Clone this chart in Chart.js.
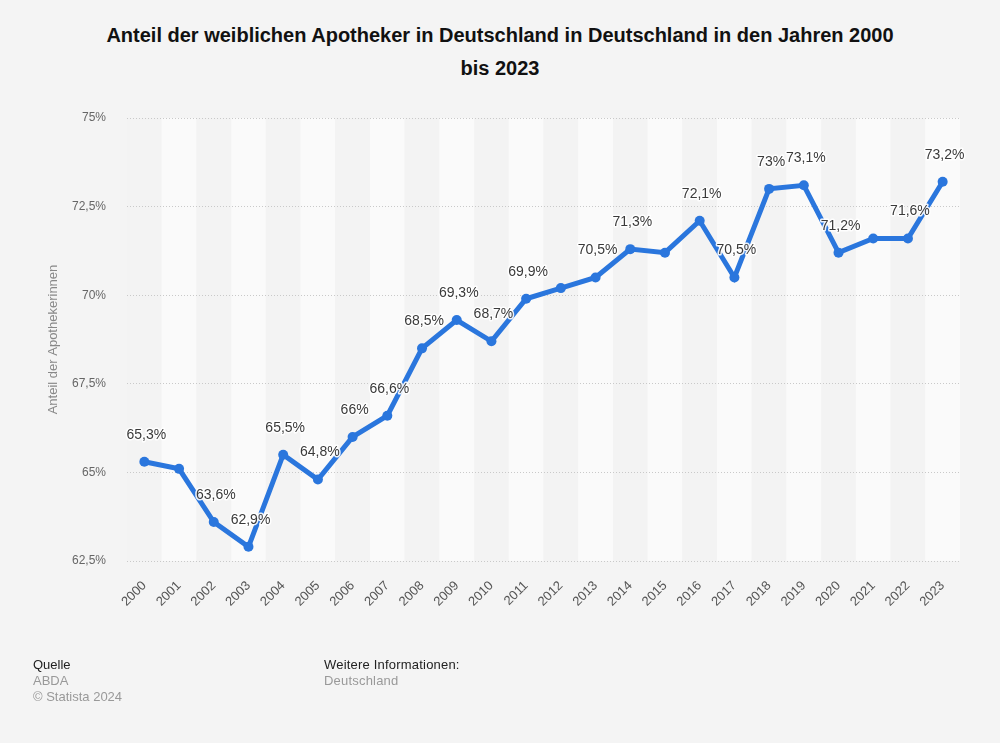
<!DOCTYPE html>
<html>
<head>
<meta charset="utf-8">
<script src="https://cdn.jsdelivr.net/npm/chart.js@4.4.1/dist/chart.umd.min.js"></script>
<style>
  html, body { margin: 0; padding: 0; background: #f4f4f4; }
  body { width: 1000px; height: 743px; position: relative; overflow: hidden; font-family: "Liberation Sans", Arial, Helvetica, sans-serif; }
  #title { position: absolute; left: 40px; top: 19px; width: 920px; text-align: center; font-weight: bold; font-size: 20px; line-height: 33px; color: #111; }
  #wrap { position: absolute; left: 0; top: 0; width: 1000px; height: 743px; }
  .foot { position: absolute; font-size: 13px; line-height: 16px; }
  .dark { color: #222; }
  .grey { color: #999; }
</style>
</head>
<body>
<div id="title">Anteil der weiblichen Apotheker in Deutschland in Deutschland in den Jahren 2000<br>bis 2023</div>
<div id="wrap"><canvas id="c" width="1000" height="743"></canvas></div>
<div class="foot" style="left:33px; top:657px;">
  <div class="dark">Quelle</div>
  <div class="grey">ABDA</div>
  <div class="grey">© Statista 2024</div>
</div>
<div class="foot" style="left:324px; top:657px;">
  <div class="dark" style="letter-spacing:0.2px;">Weitere Informationen:</div>
  <div class="grey" style="letter-spacing:0.2px;">Deutschland</div>
</div>
<script>
const years = ["2000","2001","2002","2003","2004","2005","2006","2007","2008","2009","2010","2011","2012","2013","2014","2015","2016","2017","2018","2019","2020","2021","2022","2023"];
const shares = [65.3, 65.1, 63.6, 62.9, 65.5, 64.8, 66, 66.6, 68.5, 69.3, 68.7, 69.9, 70.2, 70.5, 71.3, 71.2, 72.1, 70.5, 73, 73.1, 71.2, 71.6, 71.6, 73.2];
const labelShown = [true, false, true, true, true, true, true, true, true, true, true, true, false, true, true, false, true, true, true, true, true, false, true, true];
const yTicks = [62.5, 65, 67.5, 70, 72.5, 75];
const yAxisTitle = "Anteil der Apothekerinnen";

const FONT = '"Liberation Sans", Arial, Helvetica, sans-serif';
const fmt = v => v.toLocaleString('de-DE', {maximumFractionDigits: 1}) + '%';

const bandsPlugin = {
  id: 'bands',
  beforeDraw(chart) {
    const {ctx, chartArea, scales} = chart;
    const x = scales.x;
    const w = (chartArea.right - chartArea.left) / years.length;
    ctx.save();
    years.forEach((y, i) => {
      const cx = x.getPixelForValue(i);
      ctx.fillStyle = (i % 2 === 1) ? '#fafafa' : '#f3f3f3';
      ctx.fillRect(cx - w / 2, chartArea.top, w, chartArea.bottom - chartArea.top);
    });
    ctx.restore();
  }
};

const labelsPlugin = {
  id: 'vlabels',
  afterDatasetsDraw(chart) {
    const {ctx} = chart;
    const meta = chart.getDatasetMeta(0);
    ctx.save();
    ctx.font = '14px ' + FONT;
    ctx.textAlign = 'center';
    ctx.textBaseline = 'middle';
    ctx.lineJoin = 'round';
    meta.data.forEach((pt, i) => {
      if (!labelShown[i]) return;
      const t = fmt(shares[i]);
      const px = pt.x + 2, py = pt.y - 27;
      ctx.strokeStyle = 'rgba(255,255,255,0.9)';
      ctx.lineWidth = 3;
      ctx.strokeText(t, px, py);
      ctx.fillStyle = '#3a3a3a';
      ctx.fillText(t, px, py);
    });
    ctx.restore();
  },
  afterDraw(chart) {
    const {ctx, chartArea} = chart;
    ctx.save();
    ctx.font = '13px ' + FONT;
    ctx.fillStyle = '#888';
    ctx.textAlign = 'center';
    ctx.textBaseline = 'middle';
    ctx.translate(53, (chartArea.top + chartArea.bottom) / 2);
    ctx.rotate(-Math.PI / 2);
    ctx.fillText(yAxisTitle, 0, 0);
    ctx.restore();
  }
};

new Chart(document.getElementById('c'), {
  type: 'line',
  data: {
    labels: years,
    datasets: [{
      data: shares,
      borderColor: '#2a76dd',
      backgroundColor: '#2a76dd',
      borderWidth: 5,
      pointRadius: 5,
      pointHoverRadius: 5,
      pointBackgroundColor: '#2a76dd',
      pointBorderWidth: 0,
      tension: 0,
      clip: false
    }]
  },
  options: {
    responsive: false,
    animation: false,
    devicePixelRatio: 1,
    layout: { padding: { left: 47, right: 40, top: 118, bottom: 82 } },
    plugins: { legend: { display: false }, tooltip: { enabled: false }, title: { display: false } },
    scales: {
      x: {
        offset: true,
        grid: { display: false, drawTicks: false },
        border: { display: false },
        ticks: {
          minRotation: 45, maxRotation: 45, padding: 17,
          color: '#555', font: { family: FONT, size: 13 }
        },
        afterFit(s) { s.height = 100; }
      },
      y: {
        min: 62.5, max: 75,
        afterBuildTicks(s) { s.ticks = yTicks.map(v => ({ value: v })); },
        grid: { color: '#c9c9c9', lineWidth: 1, drawTicks: false },
        border: { display: false, dash: [1, 2] },
        ticks: {
          padding: 21, color: '#666', font: { family: FONT, size: 12 },
          callback: v => fmt(v)
        },
        afterFit(s) { s.width = 80; }
      }
    }
  },
  plugins: [bandsPlugin, labelsPlugin]
});
</script>
</body>
</html>
